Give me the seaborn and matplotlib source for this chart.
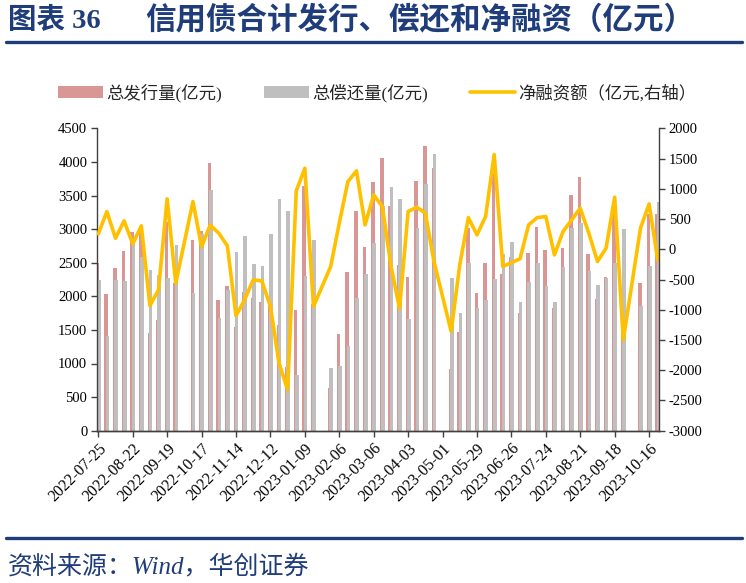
import numpy as np
import pandas as pd
import matplotlib
matplotlib.use("Agg")
import matplotlib.pyplot as plt
import seaborn as sns

# ---------------- data ----------------
dates = [
    "2022-07-25", "2022-08-01", "2022-08-08", "2022-08-15", "2022-08-22", "2022-08-29",
    "2022-09-05", "2022-09-12", "2022-09-19", "2022-09-26", "2022-10-10", "2022-10-17",
    "2022-10-24", "2022-10-31", "2022-11-07", "2022-11-14", "2022-11-21", "2022-11-28",
    "2022-12-05", "2022-12-12", "2022-12-19", "2022-12-26", "2023-01-02", "2023-01-09",
    "2023-01-16", "2023-01-30", "2023-02-06", "2023-02-13", "2023-02-20", "2023-02-27",
    "2023-03-06", "2023-03-13", "2023-03-20", "2023-03-27", "2023-04-03", "2023-04-10",
    "2023-04-17", "2023-04-24", "2023-05-08", "2023-05-15", "2023-05-22", "2023-05-29",
    "2023-06-05", "2023-06-12", "2023-06-19", "2023-06-26", "2023-07-03", "2023-07-10",
    "2023-07-17", "2023-07-24", "2023-07-31", "2023-08-07", "2023-08-14", "2023-08-21",
    "2023-08-28", "2023-09-04", "2023-09-11", "2023-09-18", "2023-09-25", "2023-10-09",
    "2023-10-16", "2023-10-23",
]
issue = [
    2500, 2034, 2425, 2680, 2950, 2976, 1460, 1643, 3101, 2199, 2838, 2965,
    3988, 1940, 2153, 1548, 2070, 1979, 1920, 1984, 1570, 941, 1796, 3646,
    1891, 642, 1440, 2366, 3269, 2733, 3696, 4053, 3350, 2466, 2292, 3720,
    4241, 3913, 912, 1473, 3012, 2044, 2500, 3830, 2332, 2583, 1756, 2640,
    3036, 2684, 1827, 2714, 3507, 3770, 2625, 1965, 2292, 3361, 1480, 2193,
    3220, 3223,
]
repay = [
    2242, 1414, 2242, 2223, 2870, 2589, 2391, 2312, 2272, 2759, 2044, 2925,
    3582, 1672, 2089, 2655, 2897, 2485, 2455, 2931, 3448, 3265, 829, 2302,
    2838, 928, 960, 1265, 1979, 2332, 2788, 3347, 3631, 3448, 1658, 3021,
    3666, 4113, 2272, 1747, 2491, 1821, 1945, 2253, 2625, 2803, 1920, 2208,
    2500, 2153, 1920, 2440, 3012, 3095, 2380, 2168, 2268, 2500, 3000, 1860,
    2455, 3398,
]
net = [
    255, 623, 183, 469, 89, 387, -931, -671, 833, -560, 789, 40,
    400, 266, 56, -1101, -836, -506, -522, -947, -1883, -2324, 965, 1340,
    -947, -286, 431, 1119, 1296, 403, 899, 706, -270, -980, 623, 696,
    597, -200, -1360, -258, 524, 238, 541, 1565, -286, -220, -159, 403,
    524, 541, -93, 293, 486, 679, 266, -203, 18, 861, -1498, 349,
    750, -175,
]
tick_labels = [
    "2022-07-25", "2022-08-22", "2022-09-19", "2022-10-17", "2022-11-14", "2022-12-12",
    "2023-01-09", "2023-02-06", "2023-03-06", "2023-04-03", "2023-05-01", "2023-05-29",
    "2023-06-26", "2023-07-24", "2023-08-21", "2023-09-18", "2023-10-16",
]
name_issue = "总发行量(亿元)"
name_repay = "总偿还量(亿元)"
name_net = "净融资额（亿元,右轴）"
title_a = "图表 36"
title_b = "信用债合计发行、偿还和净融资（亿元）"
source = "资料来源：Wind，华创证券"

# ---------------- style ----------------
sns.set_style("ticks")
FONT = ["Liberation Serif", "Noto Sans CJK SC", "DejaVu Sans"]
plt.rcParams["font.family"] = FONT
plt.rcParams["axes.unicode_minus"] = False

RED = "#D99694"
GRAY = "#BFBFBF"
GOLD = "#FFC000"
BLUE = "#1F3D7A"
AXC = "#404040"

start = pd.Timestamp(dates[0])
wk = np.array([(pd.Timestamp(d) - start).days / 7.0 for d in dates])
tick_pos = [(pd.Timestamp(d) - start).days / 7.0 for d in tick_labels]

df = pd.DataFrame({"wk": wk, "issue": issue, "repay": repay, "net": net})
df["wk_i"] = df["wk"] - 0.07
df["wk_r"] = df["wk"] + 0.07

fig = plt.figure(figsize=(7.46, 5.83), dpi=100)
ax = fig.add_axes([97 / 746, 1 - 430.7 / 583, (659 - 97) / 746, (430.7 - 128.3) / 583])

sns.barplot(data=df, x="wk_i", y="issue", native_scale=True, ax=ax, color=RED,
            width=0.42, errorbar=None, linewidth=0, label=name_issue, saturation=1)
sns.barplot(data=df, x="wk_r", y="repay", native_scale=True, ax=ax, color=GRAY,
            width=0.42, errorbar=None, linewidth=0, label=name_repay, saturation=1)

ax2 = ax.twinx()
sns.lineplot(data=df, x="wk", y="net", ax=ax2, color=GOLD, linewidth=2.6,
             label=name_net, legend=False)

for a in (ax, ax2):
    if a.get_legend() is not None:
        a.get_legend().remove()

ax.set_xlim(-0.15, 65.15)
ax.set_ylim(0, 4500)
ax.set_yticks(np.arange(0, 4501, 500))
ax2.set_ylim(-3000, 2000)
ax2.set_yticks(np.arange(-3000, 2001, 500))
ax.set_xticks(tick_pos)
ax.set_xticklabels(tick_labels, rotation=45, ha="right", rotation_mode="anchor")
ax.set_xlabel("")
ax.set_ylabel("")
ax2.set_xlabel("")
ax2.set_ylabel("")

for a in (ax, ax2):
    a.tick_params(axis="both", direction="out", length=4, width=1, color=AXC,
                  labelsize=10.5, labelcolor="black", pad=3)
    for s in a.spines.values():
        s.set_color(AXC)
        s.set_linewidth(1)
    a.spines["top"].set_visible(False)
ax.spines["right"].set_visible(False)
ax2.spines["left"].set_visible(False)
ax.tick_params(axis="x", labelsize=11.5, pad=3)

# legend
h1, l1 = ax.get_legend_handles_labels()
h2, l2 = ax2.get_legend_handles_labels()
fig.legend(h1 + h2, l1 + l2, loc="center", bbox_to_anchor=(377 / 746, 1 - 93 / 583),
           ncol=3, frameon=False, fontsize=12.5, handlelength=2.6, handleheight=0.7,
           handletextpad=0.2, columnspacing=2.4)

# title, rules, source
fig.text(8 / 746, 1 - 20 / 583, title_a, fontsize=20.5, fontweight="bold", color=BLUE,
         va="center", ha="left")
fig.text(145 / 746, 1 - 20 / 583, title_b, fontsize=22, fontweight="bold", color=BLUE,
         va="center", ha="left")
fig.add_artist(plt.Line2D([6 / 746, 742 / 746], [1 - 42 / 583, 1 - 42 / 583],
                          color=BLUE, linewidth=2.4, transform=fig.transFigure))
fig.add_artist(plt.Line2D([6 / 746, 742 / 746], [1 - 538 / 583, 1 - 538 / 583],
                          color=BLUE, linewidth=2.4, transform=fig.transFigure))
fig.text(8 / 746, 1 - 567 / 583, source, fontsize=18, color=BLUE, style="italic",
         va="center", ha="left")

fig.savefig("out.png", dpi=100)
